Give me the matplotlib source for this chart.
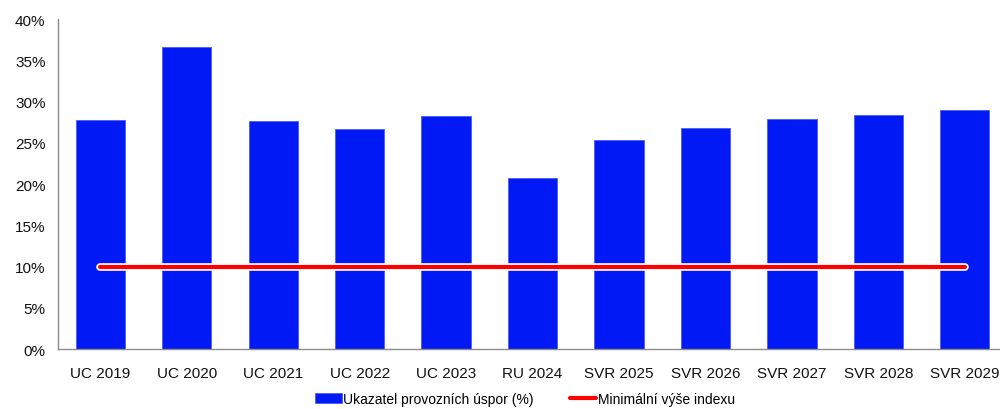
import numpy as np
import matplotlib.pyplot as plt
import matplotlib.patheffects as pe
from matplotlib.ticker import PercentFormatter

plt.rcParams['font.family'] = ['Liberation Sans', 'DejaVu Sans']

# Data
kategorie = ['UC 2019', 'UC 2020', 'UC 2021', 'UC 2022', 'UC 2023', 'RU 2024',
             'SVR 2025', 'SVR 2026', 'SVR 2027', 'SVR 2028', 'SVR 2029']
ukazatel = [27.8, 36.6, 27.6, 26.7, 28.2, 20.8, 25.3, 26.8, 27.9, 28.4, 29.0]
minimum = [10] * len(kategorie)

x = np.arange(len(kategorie))

fig = plt.figure(figsize=(10, 4.1), dpi=100)
ax = fig.add_axes([0.058, 0.146, 0.95, 0.805])

bary = ax.bar(x, ukazatel, width=0.57, color='#0019F5', edgecolor='#4a5cf7', linewidth=0.6,
              label='Ukazatel provozních úspor (%)')
cara, = ax.plot(x, minimum, color='#FF0000', lw=3, solid_capstyle='round',
                path_effects=[pe.Stroke(linewidth=5.5, foreground='white'), pe.Normal()],
                label='Minimální výše indexu')

ax.set_ylim(0, 40)
ax.set_yticks(np.arange(0, 41, 5))
ax.yaxis.set_major_formatter(PercentFormatter(decimals=0))
ax.set_xlim(-0.49, len(kategorie) - 0.5)
ax.set_xticks(x)
ax.set_xticklabels(kategorie)
ax.tick_params(axis='both', length=0, labelsize=11, colors='#111111')
ax.tick_params(axis='x', pad=12)
ax.tick_params(axis='y', pad=9)

for s in ['top', 'right']:
    ax.spines[s].set_visible(False)
for s in ['left', 'bottom']:
    ax.spines[s].set_color('#8c8c8c')
    ax.spines[s].set_linewidth(1)

fig.legend(handles=[bary, cara], loc='lower center', bbox_to_anchor=(0.525, -0.022), ncol=2,
           frameon=False, fontsize=10, handlelength=1.9, columnspacing=2.6, handletextpad=0.1)

fig.savefig('out.png', dpi=100)
